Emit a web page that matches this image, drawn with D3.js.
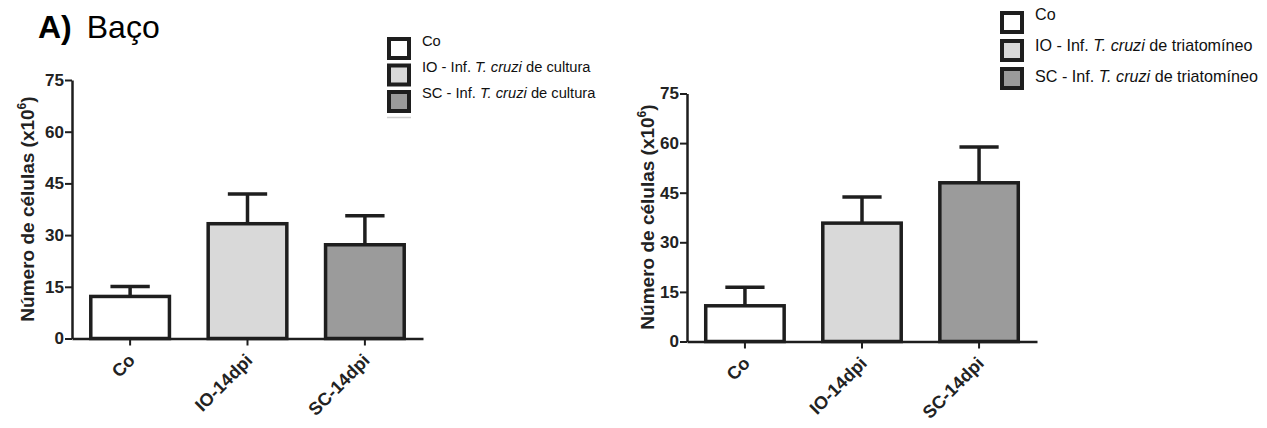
<!DOCTYPE html>
<html>
<head>
<meta charset="utf-8">
<script src="https://cdn.jsdelivr.net/npm/d3@7"></script>
<style>
  body { margin: 0; background: #fff; }
  svg { display: block; }
</style>
</head>
<body>
<svg id="chart" width="1267" height="428"></svg>
<script>
// groups on the x axis
const categories = ["Co", "IO-14dpi", "SC-14dpi"];
const yTicks = [0, 15, 30, 45, 60, 75];

// left panel: T. cruzi de cultura (mean and SEM, x10^6)
const culturaMeans = [12.2, 33.3, 27.2];
const culturaSem = [2.9, 8.6, 8.4];
const culturaLegend = ["Co", "IO - Inf. |T. cruzi| de cultura", "SC - Inf. |T. cruzi| de cultura"];

// right panel: T. cruzi de triatomíneo
const triatMeans = [10.8, 35.8, 48.0];
const triatSem = [5.6, 7.9, 10.8];
const triatLegend = ["Co", "IO - Inf. |T. cruzi| de triatomíneo", "SC - Inf. |T. cruzi| de triatomíneo"];

const fills = ["#ffffff", "#d9d9d9", "#9b9b9b"];
const ink = "#1e1e1e";

let svg = d3.select("#chart");

// title
let title = svg.append("text")
    .attr("x", 38).attr("y", 38)
    .attr("font-family", "Liberation Sans, Arial, sans-serif")
    .attr("font-size", 32);
title.append("tspan").attr("font-weight", "bold").text("A)");
title.append("tspan").attr("dx", 15).text("Baço");

let panel = function(opts) {
    let x = d3.scaleBand()
        .domain(categories)
        .range([opts.left, opts.right])
        .paddingInner(0.33)
        .paddingOuter(0.16);

    let y = d3.scaleLinear()
        .domain([0, 75])
        .range([opts.bottom, opts.top]);

    let g = svg.append("g");

    // bars
    g.selectAll("rect.bar")
        .data(opts.means)
        .join("rect")
        .attr("class", "bar")
        .attr("x", (d, i) => x(categories[i]))
        .attr("y", d => y(d))
        .attr("width", x.bandwidth())
        .attr("height", d => y(0) - y(d))
        .attr("fill", (d, i) => fills[i])
        .attr("stroke", ink)
        .attr("stroke-width", 3.5);

    // error bars (upper only)
    let cap = x.bandwidth() / 4;
    opts.means.forEach((m, i) => {
        let cx = x(categories[i]) + x.bandwidth() / 2;
        g.append("line")
            .attr("x1", cx).attr("x2", cx)
            .attr("y1", y(m)).attr("y2", y(m + opts.sem[i]))
            .attr("stroke", ink).attr("stroke-width", 3.5);
        g.append("line")
            .attr("x1", cx - cap).attr("x2", cx + cap)
            .attr("y1", y(m + opts.sem[i])).attr("y2", y(m + opts.sem[i]))
            .attr("stroke", ink).attr("stroke-width", 3.5);
    });

    // y axis
    let ya = g.append("g")
        .attr("transform", `translate(${opts.left},0)`)
        .call(d3.axisLeft(y).tickValues(yTicks).tickSize(7).tickSizeOuter(0).tickPadding(1));
    ya.select(".domain").attr("stroke", ink).attr("stroke-width", 2.5);
    ya.selectAll(".tick line").attr("stroke", ink).attr("stroke-width", 2);
    ya.selectAll(".tick text")
        .attr("fill", "#222")
        .attr("font-family", "Liberation Sans, Arial, sans-serif")
        .attr("font-weight", "bold")
        .attr("font-size", 17);

    // x axis
    let xa = g.append("g")
        .attr("transform", `translate(0,${opts.bottom})`)
        .call(d3.axisBottom(x).tickSize(7).tickSizeOuter(0));
    xa.select(".domain").attr("stroke", ink).attr("stroke-width", 2.5);
    xa.selectAll(".tick line").attr("stroke", ink).attr("stroke-width", 2);
    xa.selectAll(".tick text")
        .attr("fill", "#222")
        .attr("font-family", "Liberation Sans, Arial, sans-serif")
        .attr("font-weight", "bold")
        .attr("font-size", 18)
        .attr("text-anchor", "end")
        .attr("x", 0).attr("y", 0).attr("dy", 0)
        .attr("transform", "translate(6,23) rotate(-45)");

    // y label
    let lab = g.append("text")
        .attr("transform", `translate(${opts.labelX},${opts.labelY}) rotate(-90)`)
        .attr("text-anchor", "middle")
        .attr("fill", "#222")
        .attr("font-family", "Liberation Sans, Arial, sans-serif")
        .attr("font-weight", "bold")
        .attr("font-size", 19);
    lab.append("tspan").text("Número de células (x10");
    lab.append("tspan").attr("font-size", 12).attr("dy", -8).text("6");
    lab.append("tspan").attr("dy", 8).text(")");

    // legend
    let lg = g.append("g");
    opts.legend.forEach((txt, i) => {
        lg.append("rect")
            .attr("x", opts.legX + 2).attr("y", opts.legY + i * opts.legStep + 2)
            .attr("width", 20).attr("height", 19)
            .attr("fill", fills[i])
            .attr("stroke", ink).attr("stroke-width", 4);
        let t = lg.append("text")
            .attr("x", opts.legX + 35)
            .attr("y", opts.textY + i * opts.textStep)
            .attr("fill", "#111")
            .attr("font-family", opts.legFont)
            .attr("font-size", opts.legSize);
        txt.split("|").forEach((part, j) => {
            t.append("tspan")
                .attr("font-style", j === 1 ? "italic" : "normal")
                .text(part);
        });
        // squeeze text to match the narrow look of the original
        let tx = opts.legX + 35;
        t.attr("transform", `translate(${tx},0) scale(${opts.squeeze},1) translate(${-tx},0)`);
    });
    if (opts.ghost) {
        lg.append("line")
            .attr("x1", opts.legX).attr("x2", opts.legX + 24)
            .attr("y1", opts.legY + 3 * opts.legStep + 1).attr("y2", opts.legY + 3 * opts.legStep + 1)
            .attr("stroke", "#cfcfcf").attr("stroke-width", 1.5);
    }
};

panel({
    left: 72, right: 423, top: 80, bottom: 338.5,
    means: culturaMeans, sem: culturaSem,
    labelX: 34, labelY: 209,
    legend: culturaLegend,
    legX: 387, legY: 37, legStep: 26.5,
    textY: 46, textStep: 26,
    legFont: "Liberation Sans Narrow, Liberation Sans, Arial, sans-serif",
    legSize: 15, squeeze: 0.98, ghost: true
});

panel({
    left: 687, right: 1037, top: 93.5, bottom: 341.5,
    means: triatMeans, sem: triatSem,
    labelX: 654, labelY: 217,
    legend: triatLegend,
    legX: 1000, legY: 11, legStep: 28,
    textY: 20, textStep: 31,
    legFont: "Liberation Sans, Arial, sans-serif",
    legSize: 17, squeeze: 0.95, ghost: false
});
</script>
</body>
</html>
